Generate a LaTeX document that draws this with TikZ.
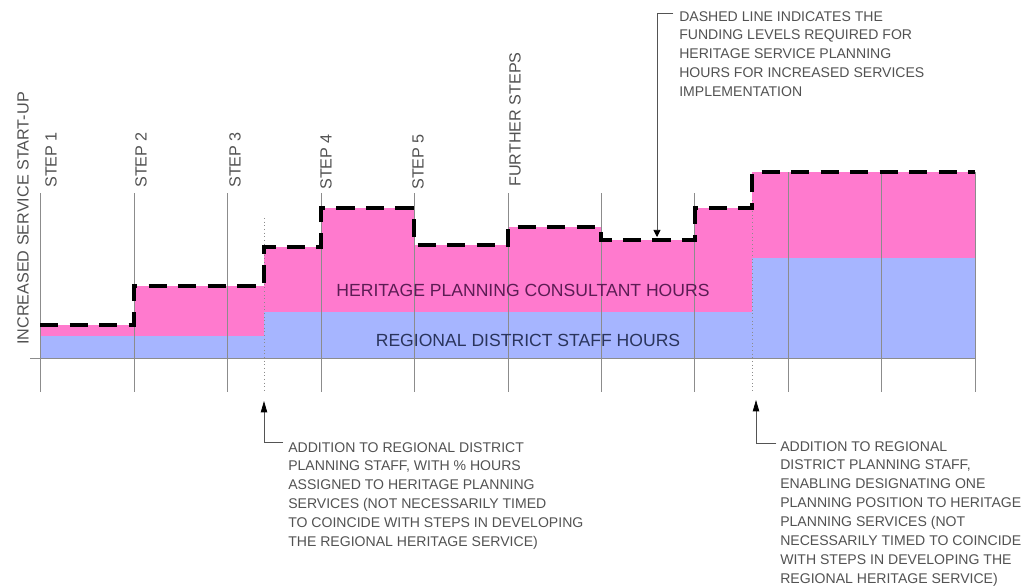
\documentclass[tikz,border=0pt]{standalone}
\usepackage{fontspec}
\setmainfont{Liberation Sans}
\usetikzlibrary{arrows.meta,positioning,calc}

\definecolor{hpink}{RGB}{255,122,206}
\definecolor{sblue}{RGB}{166,181,255}
\definecolor{notegray}{RGB}{82,82,82}
\definecolor{gridgray}{RGB}{140,140,140}
\definecolor{consulttext}{RGB}{92,28,84}
\definecolor{stafftext}{RGB}{42,52,92}

\begin{document}
\begin{tikzpicture}[x=0.025cm,y=-0.025cm,
  gridline/.style={gridgray, line width=0.5pt},
  timing/.style={gridgray, dotted, line width=0.6pt},
  funding/.style={line width=2.6pt, dash pattern=on 13pt off 8pt},
  steplabel/.style={rotate=90, anchor=west, inner sep=0pt, text=notegray, font=\fontsize{11.5}{13}\selectfont},
  bandlabel/.style={inner sep=0pt, font=\fontsize{12.5}{14}\selectfont},
  note/.style={anchor=north west, inner sep=0pt, align=left, text=notegray, font=\fontsize{10}{13.4}\selectfont},
  leader/.style={gridgray!60!black, line width=0.5pt}]
  \useasboundingbox (0,0) rectangle (1032,586);

  % hours bands
  \fill[hpink] (40,358) -- (40,325) -| (134,286) -| (264,247) -| (321,208) -| (414,245) -| (508,227)
     -| (601,240) -| (695,208) -| (752,172) -- (975,172) -- (975,358) -- cycle;
  \fill[sblue] (40,358) -- (40,336) -| (264,312) -| (752,258) -| (975,358) -- cycle;

  % step lines
  \foreach \x in {40,134,227,321,414,508,601,694}
    \draw[gridline] (\x,193) -- (\x,392);
  \foreach \x in {788,881,975}
    \draw[gridline] (\x,172) -- (\x,392);
  \draw[gridline] (30,358) -- (975,358);
  \draw[timing] (264,218) -- (264,392);
  \draw[timing] (752,200) -- (752,392);

  % funding levels
  \draw[funding] (40,325) -| (134,286) -| (264,247) -| (321,208) -| (414,245) -| (508,227)
     -| (601,240) -| (695,208) -| (752,172) -- (975,172);

  \node[bandlabel, text=consulttext] (consult) at (523,290) {HERITAGE PLANNING CONSULTANT HOURS};
  \node[bandlabel, text=stafftext] (staff) at (528,340) {REGIONAL DISTRICT STAFF HOURS};

  \node[steplabel] (startup) at (23,345) {INCREASED SERVICE START-UP};
  \node[steplabel] (step1) at (51,188) {STEP 1};
  \node[steplabel] (step2) at (141,188) {STEP 2};
  \node[steplabel] (step3) at (235,188) {STEP 3};
  \node[steplabel] (step4) at (326,190) {STEP 4};
  \node[steplabel] (step5) at (418,190) {STEP 5};
  \node[steplabel] (further) at (515,187) {FURTHER STEPS};

  % notes
  \node[note] (fundnote) at (679,11) {DASHED LINE INDICATES THE\\FUNDING LEVELS REQUIRED FOR\\HERITAGE SERVICE PLANNING\\HOURS FOR INCREASED SERVICES\\IMPLEMENTATION};
  \node[note] (staffnote) at (288,442) {ADDITION TO REGIONAL DISTRICT\\PLANNING STAFF, WITH \% HOURS\\ASSIGNED TO HERITAGE PLANNING\\SERVICES (NOT NECESSARILY TIMED\\TO COINCIDE WITH STEPS IN DEVELOPING\\THE REGIONAL HERITAGE SERVICE)};
  \node[note] (posnote) at (780,441) {ADDITION TO REGIONAL\\DISTRICT PLANNING STAFF,\\ENABLING DESIGNATING ONE\\PLANNING POSITION TO HERITAGE\\PLANNING SERVICES (NOT\\NECESSARILY TIMED TO COINCIDE\\WITH STEPS IN DEVELOPING THE\\REGIONAL HERITAGE SERVICE)};

  \coordinate (fundtip) at (657,237);
  \coordinate (stafftip) at (264,401);
  \coordinate (postip) at (756,400);
  \draw[leader, -{Triangle[length=5pt,width=5pt,color=black]}] ([xshift=-4pt,yshift=-1.5pt]fundnote.north west) -| (fundtip);
  \draw[leader, -{Triangle[length=8pt,width=4.5pt,color=black]}] ([xshift=-3.5pt]staffnote.north west) -| (stafftip);
  \draw[leader, -{Triangle[length=8pt,width=4.5pt,color=black]}] ([xshift=-2.5pt,yshift=-2pt]posnote.north west) -| (postip);
\end{tikzpicture}
\end{document}
